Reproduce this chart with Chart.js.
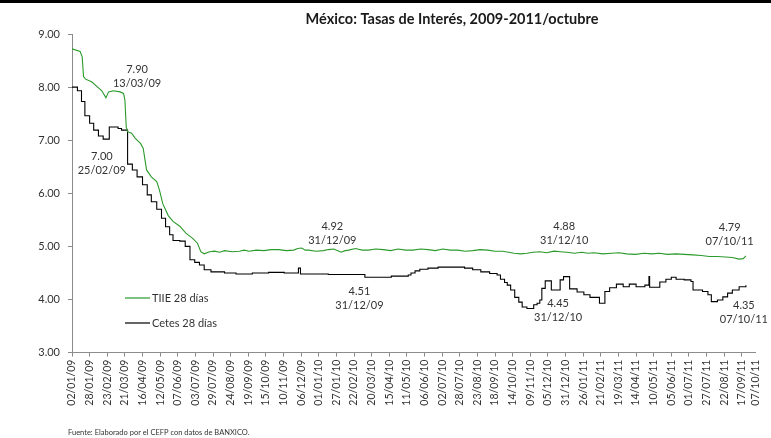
<!DOCTYPE html>
<html>
<head>
<meta charset="utf-8">
<script src="https://cdn.jsdelivr.net/npm/chart.js@4/dist/chart.umd.min.js"></script>
<style>
  html, body { margin: 0; padding: 0; background: #ffffff; }
  #wrap { width: 771px; height: 438px; position: relative; }
</style>
</head>
<body>
<div id="wrap"><canvas id="c" width="771" height="438"></canvas></div>
<script>
// ---- Data (days counted from 02/01/09) ----
const chartTitle = 'México: Tasas de Interés, 2009-2011/octubre';
const sourceNote = 'Fuente: Elaborado por el CEFP con datos de BANXICO.';
const seriesNames = ['TIIE 28 días', 'Cetes 28 días'];

const tickLabels = ['02/01/09','28/01/09','23/02/09','21/03/09','16/04/09','12/05/09','07/06/09','03/07/09',
  '29/07/09','24/08/09','19/09/09','15/10/09','10/11/09','06/12/09','01/01/10','27/01/10','22/02/10',
  '20/03/10','15/04/10','11/05/10','06/06/10','02/07/10','28/07/10','23/08/10','18/09/10','14/10/10',
  '09/11/10','05/12/10','31/12/10','26/01/11','21/02/11','19/03/11','14/04/11','10/05/11','05/06/11',
  '01/07/11','27/07/11','22/08/11','17/09/11','07/10/11'];

const tiieDays = [0,12,15,17,20,29,37,44,50,54,61,71,76,78,80,82,88,93,101,105,110,117,125,129,134,142,149,159,168,178,185,190,195,203,
  210,218,225,236,247,254,261,272,283,294,305,316,327,333,339,344,349,360,371,378,386,392,397,403,408,418,428,437,448,459,470,481,492,503,514,525,536,547,558,569,580,591,602,613,624,635,644,652,662,671,680,690,700,711,720,730,741,752,761,770,783,796,807,818,831,844,855,866,878,891,903,916,928,940,952,964,974,984,990,994];
const tiieValues = [8.72,8.67,8.57,8.20,8.15,8.10,8.01,7.93,7.80,7.91,7.93,7.91,7.88,7.76,7.25,7.16,7.13,7.04,6.94,6.85,6.44,6.31,6.22,6.06,5.80,5.58,5.47,5.38,5.25,5.15,5.06,4.90,4.86,4.90,
  4.91,4.89,4.92,4.90,4.91,4.93,4.91,4.93,4.92,4.94,4.94,4.92,4.93,4.96,4.97,4.93,4.93,4.91,4.92,4.94,4.95,4.92,4.89,4.92,4.93,4.96,4.93,4.93,4.95,4.94,4.92,4.95,4.93,4.93,4.95,4.94,4.92,4.95,4.93,4.93,4.91,4.92,4.94,4.93,4.91,4.91,4.89,4.87,4.86,4.87,4.89,4.90,4.88,4.91,4.90,4.89,4.87,4.89,4.87,4.88,4.86,4.87,4.88,4.86,4.85,4.87,4.86,4.87,4.85,4.86,4.85,4.84,4.83,4.81,4.81,4.80,4.79,4.76,4.77,4.82];

const cetesDays = [0,8,14,19,26,32,39,46,55,68,73,82,89,96,104,111,117,125,132,138,144,149,159,167,174,181,188,195,205,225,242,266,290,313,334,337,
  378,432,471,496,500,506,513,525,540,579,591,603,616,627,632,638,642,647,653,659,664,671,681,686,690,693,698,707,720,725,734,745,755,764,778,786,793,803,813,822,832,845,851,852,867,876,884,891,903,913,916,930,938,943,952,960,967,974,984,994];
const cetesValues = [8.00,7.93,7.73,7.46,7.32,7.19,7.08,7.02,7.25,7.22,7.19,6.55,6.44,6.31,6.16,5.97,5.84,5.70,5.53,5.37,5.22,5.11,5.10,5.00,4.75,4.70,4.65,4.56,4.52,4.50,4.48,4.50,4.51,4.50,4.59,4.48,
  4.47,4.42,4.44,4.46,4.50,4.54,4.57,4.59,4.61,4.59,4.56,4.52,4.49,4.46,4.38,4.32,4.27,4.18,4.04,3.95,3.86,3.83,3.90,3.93,3.99,4.21,4.35,4.18,4.37,4.43,4.20,4.14,4.09,4.04,3.93,4.15,4.22,4.29,4.24,4.29,4.24,4.27,4.43,4.23,4.33,4.38,4.42,4.38,4.37,4.34,4.18,4.15,4.09,3.96,3.99,4.05,4.12,4.18,4.24,4.27];

// Callout texts
const calloutValues = ['7.90','7.00','4.92','4.51','4.88','4.79','4.45','4.35'];
const calloutDates  = ['13/03/09','25/02/09','31/12/09','31/12/09','31/12/10','07/10/11','31/12/10','07/10/11'];
// Callout placement (in axis units: day, rate)
const calloutAnchors = [[96,8.34],[44,6.69],[384,5.37],[424,4.16],[726,5.38],[970,5.35],[717,3.93],[991,3.88]];

// ---- helpers ----
const START = Date.UTC(2009, 0, 2);
function dayOf(s) { const [d, m, y] = s.split('/').map(Number); return Math.round((Date.UTC(2000 + y, m - 1, d) - START) / 86400000); }
const tickMap = {}; tickLabels.forEach(s => tickMap[dayOf(s)] = s);
const lastDay = dayOf(tickLabels[tickLabels.length - 1]);

const FONT = 'Lato, "Liberation Sans", sans-serif';
const GREEN = '#2a9a2a';
const AXIS = '#8c8c8c';
const TXT = '#333333';

const decor = {
  id: 'decor',
  beforeDraw(chart) {
    const ctx = chart.ctx;
    ctx.save();
    ctx.fillStyle = '#ffffff'; ctx.fillRect(0, 0, chart.width, chart.height);
    ctx.fillStyle = '#000000'; ctx.fillRect(0, 0, chart.width, 3);
    ctx.font = 'bold 14.5px ' + FONT; ctx.fillStyle = '#1a1a1a';
    ctx.textAlign = 'center'; ctx.textBaseline = 'middle';
    ctx.fillText(chartTitle, 452, 19);
    ctx.font = '7.5px ' + FONT; ctx.fillStyle = TXT; ctx.textAlign = 'left';
    ctx.fillText(sourceNote, 68, 433);
    ctx.restore();
  },
  afterDatasetsDraw(chart) {
    const ctx = chart.ctx, xs = chart.scales.x, ys = chart.scales.y, a = chart.chartArea;
    ctx.save();
    // legend
    ctx.font = '11px ' + FONT; ctx.textBaseline = 'middle'; ctx.textAlign = 'left';
    chart.data.datasets.forEach((ds, i) => {
      const y = a.top + 264 + i * 25, x0 = a.left + 53;
      ctx.strokeStyle = ds.borderColor; ctx.lineWidth = 1.2;
      ctx.beginPath(); ctx.moveTo(x0, y); ctx.lineTo(x0 + 25, y); ctx.stroke();
      ctx.fillStyle = TXT; ctx.fillText(ds.label, x0 + 27, y);
    });
    // callouts
    ctx.font = '11px ' + FONT; ctx.textAlign = 'center'; ctx.fillStyle = TXT;
    calloutAnchors.forEach((p, i) => {
      const x = xs.getPixelForValue(p[0]), y = ys.getPixelForValue(p[1]);
      ctx.fillText(calloutValues[i], x, y);
      ctx.fillText(calloutDates[i], x, y + 14);
    });
    ctx.restore();
  }
};

new Chart(document.getElementById('c'), {
  type: 'line',
  data: {
    datasets: [
      { label: seriesNames[0], data: tiieDays.map((d, i) => ({ x: d, y: tiieValues[i] })),
        borderColor: GREEN, borderWidth: 1.1, pointRadius: 0, tension: 0, fill: false },
      { label: seriesNames[1], data: cetesDays.map((d, i) => ({ x: d, y: cetesValues[i] })),
        borderColor: '#000000', borderWidth: 1.1, pointRadius: 0, stepped: true, fill: false }
    ]
  },
  options: {
    responsive: false, animation: false, devicePixelRatio: 1,
    layout: { padding: { top: 34, right: 12, left: 0, bottom: 0 } },
    plugins: { legend: { display: false }, title: { display: false }, tooltip: { enabled: false } },
    scales: {
      x: {
        type: 'linear', min: 0, max: lastDay,
        afterBuildTicks(scale) { scale.ticks = tickLabels.map(s => ({ value: dayOf(s) })); },
        afterFit(scale) { scale.height = 85.4; },
        ticks: { autoSkip: false, maxRotation: 90, minRotation: 90, padding: 3,
          font: { family: FONT, size: 10.5 }, color: TXT,
          callback: v => tickMap[v] || '' },
        grid: { drawOnChartArea: false, drawTicks: true, tickLength: 4, color: AXIS,
          tickColor: ctx => (ctx.index === tickLabels.length - 1 ? 'rgba(0,0,0,0)' : AXIS) },
        border: { display: true, color: AXIS, width: 1 }
      },
      y: {
        min: 3, max: 9,
        afterFit(scale) { scale.width = 72; },
        ticks: { stepSize: 1, padding: 8, font: { family: FONT, size: 11 }, color: TXT,
          callback: v => Number(v).toFixed(2) },
        grid: { drawOnChartArea: false, drawTicks: true, tickLength: 4, color: AXIS },
        border: { display: true, color: AXIS, width: 1 }
      }
    }
  },
  plugins: [decor]
});
</script>
</body>
</html>
